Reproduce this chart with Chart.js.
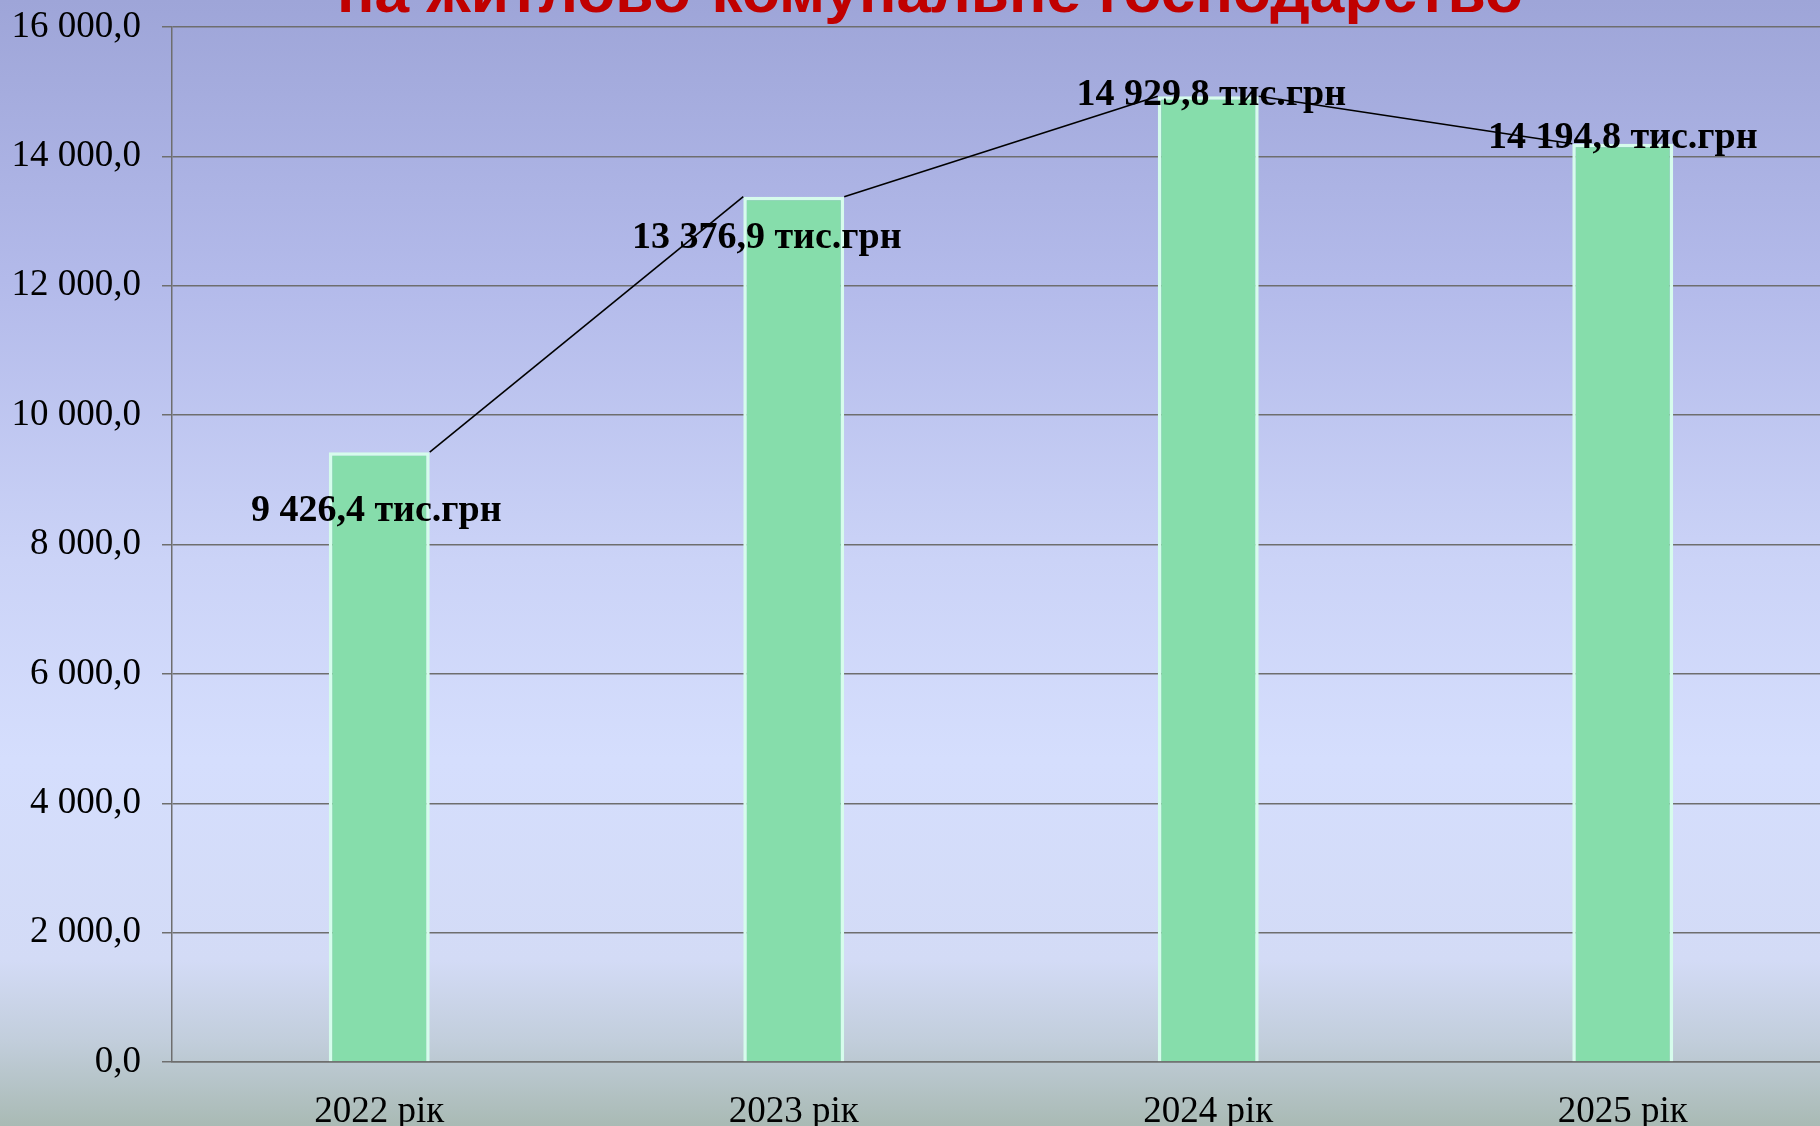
<!DOCTYPE html>
<html>
<head>
<meta charset="utf-8">
<script src="https://cdn.jsdelivr.net/npm/chart.js@4.4.1/dist/chart.umd.min.js"></script>
<style>
html,body{margin:0;padding:0;overflow:hidden;width:1820px;height:1126px;}
body{background:linear-gradient(to bottom,#9EA5D8 0px,#B3BAEA 280px,#CBD3F7 560px,#D5DEFD 760px,#D3DBF6 960px,#C2CEDC 1040px,#A9BAB4 1126px);}
#wrap{position:absolute;left:0;top:0;width:1830px;height:1126px;}
</style>
</head>
<body>
<div id="wrap"><canvas id="c" width="1830" height="1126"></canvas></div>
<script>
// ---- data ----
const categories = ['2022 рік', '2023 рік', '2024 рік', '2025 рік'];
const values = [9426.4, 13376.9, 14929.8, 14194.8];
const yMin = 0;
const yMax = 16000;
const yStep = 2000;
const unitSuffix = ' тис.грн';
const titleText = 'на житлово-комунальне господарство';

// ---- styling (label nudges, px) ----
const labelOffsets = [[-3, 59], [-27, 42], [3, -1], [0, -6]];

function fmt(v) {
  const s = Number(v).toFixed(1);
  const parts = s.split('.');
  const intPart = parts[0].replace(/\B(?=(\d{3})+(?!\d))/g, ' ');
  return intPart + ',' + parts[1];
}

const overlayPlugin = {
  id: 'overlay',
  afterDatasetsDraw(chart) {
    const ctx = chart.ctx;
    const meta = chart.getDatasetMeta(0);
    ctx.save();
    // data labels
    ctx.font = 'bold 38px "Liberation Serif", "Times New Roman", serif';
    ctx.fillStyle = '#000';
    ctx.textAlign = 'center';
    ctx.textBaseline = 'middle';
    meta.data.forEach((bar, i) => {
      const off = labelOffsets[i] || [0, 0];
      ctx.fillText(fmt(values[i]) + unitSuffix, bar.x + off[0], bar.y + off[1]);
    });
    // series lines between bar top corners
    ctx.strokeStyle = '#000';
    ctx.lineWidth = 1.6;
    for (let i = 0; i < meta.data.length - 1; i++) {
      const a = meta.data[i], b = meta.data[i + 1];
      ctx.beginPath();
      ctx.moveTo(a.x + a.width / 2, a.y);
      ctx.lineTo(b.x - b.width / 2, b.y);
      ctx.stroke();
    }
    ctx.restore();
  },
  afterDraw(chart) {
    const ctx = chart.ctx;
    ctx.save();
    ctx.font = 'bold 60px "Liberation Sans Narrow", "Liberation Sans", Arial, sans-serif';
    const w = ctx.measureText(titleText).width;
    const sx = 1186 / w;
    ctx.translate(337, 12);
    ctx.scale(sx, 1);
    ctx.fillStyle = '#C00000';
    ctx.textAlign = 'left';
    ctx.textBaseline = 'alphabetic';
    ctx.fillText(titleText, 0, 0);
    ctx.restore();
  }
};

new Chart(document.getElementById('c'), {
  type: 'bar',
  data: {
    labels: categories,
    datasets: [{
      data: values,
      backgroundColor: '#86DDAB',
      borderColor: '#D6FCEC',
      borderWidth: 3.5,
      categoryPercentage: 1.0,
      barPercentage: 0.2435
    }]
  },
  options: {
    responsive: false,
    animation: false,
    devicePixelRatio: 1,
    layout: { padding: { top: 27, left: 0, right: 0, bottom: 0 } },
    plugins: { legend: { display: false }, tooltip: { enabled: false }, title: { display: false } },
    scales: {
      y: {
        min: yMin,
        max: yMax,
        ticks: {
          stepSize: yStep,
          callback: (v) => fmt(v),
          font: { family: '"Liberation Serif", "Times New Roman", serif', size: 37 },
          color: '#000',
          padding: 21
        },
        grid: { color: '#6e6e6e', lineWidth: 1.5, tickLength: 10, drawTicks: true },
        border: { display: true, color: '#6e6e6e', width: 1.5 },
        afterFit(s) { s.width = 172; s.paddingTop = 0; s.paddingBottom = 0; }
      },
      x: {
        grid: { display: false, drawTicks: false },
        border: { display: true, color: '#6e6e6e', width: 1.5 },
        ticks: {
          font: { family: '"Liberation Serif", "Times New Roman", serif', size: 37 },
          color: '#000',
          padding: 28,
          maxRotation: 0
        },
        afterFit(s) { s.height = 64; s.paddingLeft = 0; s.paddingRight = 0; }
      }
    }
  },
  plugins: [overlayPlugin]
});
</script>
</body>
</html>
